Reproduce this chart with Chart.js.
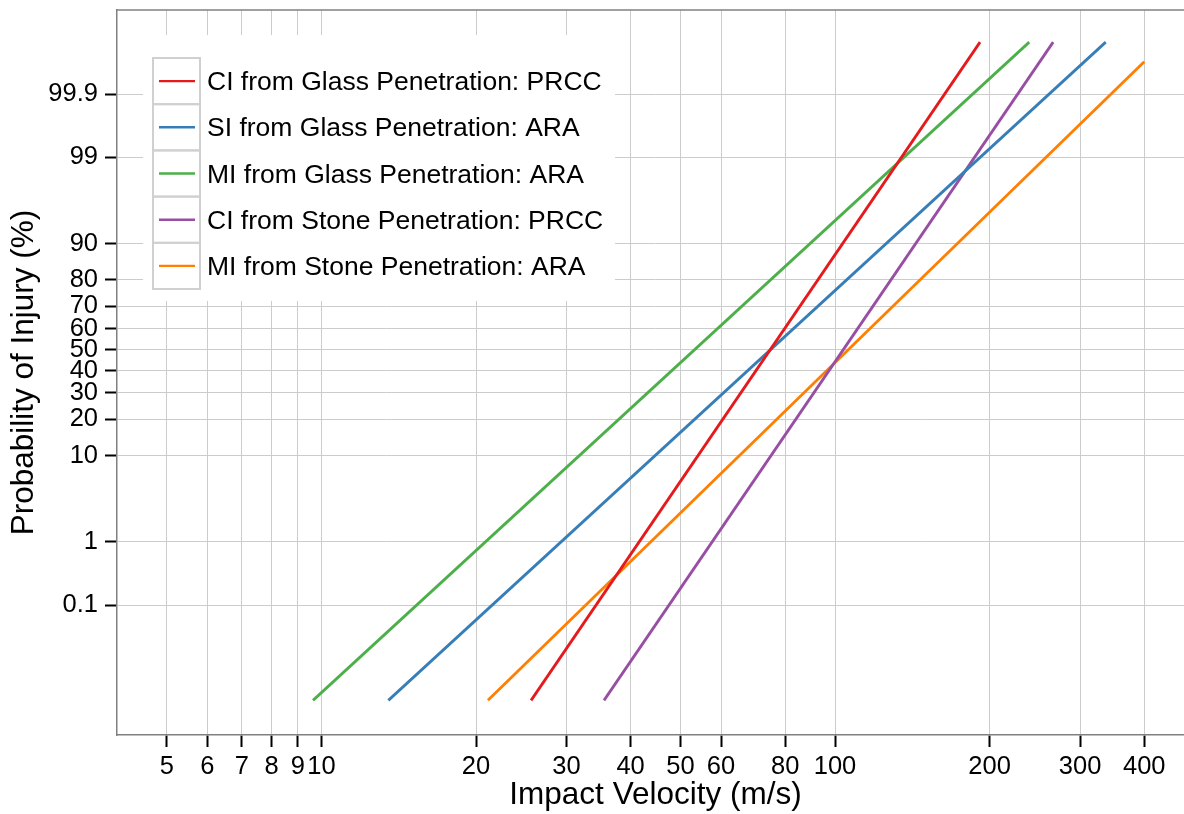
<!DOCTYPE html>
<html>
<head>
<meta charset="utf-8">
<script src="https://cdn.jsdelivr.net/npm/chart.js@4.4.1/dist/chart.umd.min.js"></script>
<style>
  html, body { margin: 0; padding: 0; background: #fff; overflow: hidden; }
  #wrap { width: 1200px; height: 814px; }
</style>
</head>
<body>
<div id="wrap"><canvas id="chart" width="1200" height="814"></canvas></div>
<script>
const seriesLabels = [
  'CI from Glass Penetration: PRCC',
  'SI from Glass Penetration: ARA',
  'MI from Glass Penetration: ARA',
  'CI from Stone Penetration: PRCC',
  'MI from Stone Penetration: ARA'
];
const seriesColors = ['#e41a1c', '#377eb8', '#4daf4a', '#984ea3', '#ff7f00'];
// each curve is a straight line on these axes, read at both ends (m/s, %)
const lowVelocity = [25.6, 13.5, 9.63, 35.5, 21.1];
const highVelocity = [191.6, 336.6, 238.9, 265.9, 400];
const lowProbability = [0.0011, 0.0011, 0.0011, 0.0011, 0.0011];
const highProbability = [99.99, 99.99, 99.99, 99.99, 99.975];
const velocityTicks = [5, 6, 7, 8, 9, 10, 20, 30, 40, 50, 60, 80, 100, 200, 300, 400];
const probabilityTicks = [0.1, 1, 10, 20, 30, 40, 50, 60, 70, 80, 90, 99, 99.9];

const FONT = "'Liberation Sans', Arial, sans-serif";
const GRID = '#cccccc';
const FRAME = '#808080';

// inverse standard normal CDF (Acklam)
function probit(p) {
  const a = [-3.969683028665376e+01, 2.209460984245205e+02, -2.759285104469687e+02, 1.383577518672690e+02, -3.066479806614716e+01, 2.506628277459239e+00];
  const b = [-5.447609879822406e+01, 1.615858368580409e+02, -1.556989798598866e+02, 6.680131188771972e+01, -1.328068155288572e+01];
  const c = [-7.784894002430293e-03, -3.223964580411365e-01, -2.400758277161838e+00, -2.549732539343734e+00, 4.374664141464968e+00, 2.938163982698783e+00];
  const d = [7.784695709041462e-03, 3.224671290700398e-01, 2.445134137142996e+00, 3.754408661907416e+00];
  const plow = 0.02425;
  let q, r;
  if (p < plow) {
    q = Math.sqrt(-2 * Math.log(p));
    return (((((c[0]*q+c[1])*q+c[2])*q+c[3])*q+c[4])*q+c[5]) / ((((d[0]*q+d[1])*q+d[2])*q+d[3])*q+1);
  }
  if (p <= 1 - plow) {
    q = p - 0.5; r = q * q;
    return (((((a[0]*r+a[1])*r+a[2])*r+a[3])*r+a[4])*r+a[5])*q / (((((b[0]*r+b[1])*r+b[2])*r+b[3])*r+b[4])*r+1);
  }
  q = Math.sqrt(-2 * Math.log(1 - p));
  return -(((((c[0]*q+c[1])*q+c[2])*q+c[3])*q+c[4])*q+c[5]) / ((((d[0]*q+d[1])*q+d[2])*q+d[3])*q+1);
}

function normCdf(z) {
  const t = 1 / (1 + 0.2316419 * Math.abs(z));
  const y = t * (0.319381530 + t * (-0.356563782 + t * (1.781477937 + t * (-1.821255978 + t * 1.330274429))));
  const tail = Math.exp(-z * z / 2) / Math.sqrt(2 * Math.PI) * y;
  return z >= 0 ? 1 - tail : tail;
}

// probability (%) axis: linear in the normal quantile
class ProbitScale extends Chart.Scale {
  determineDataLimits() {
    const mm = this.getMinMax(false);
    this.min = this.options.min ?? mm.min;
    this.max = this.options.max ?? mm.max;
  }
  buildTicks() {
    return probabilityTicks.map(v => ({ value: v }));
  }
  getLabelForValue(v) {
    return String(v);
  }
  getPixelForValue(v) {
    const z0 = probit(this.min / 100);
    const z1 = probit(this.max / 100);
    return this.getPixelForDecimal((probit(v / 100) - z0) / (z1 - z0));
  }
  getValueForPixel(px) {
    const z0 = probit(this.min / 100);
    const z1 = probit(this.max / 100);
    return normCdf(z0 + this.getDecimalForPixel(px) * (z1 - z0)) * 100;
  }
}
ProbitScale.id = 'probit';
ProbitScale.defaults = {};
Chart.register(ProbitScale);

const boxedLegend = {
  id: 'boxedLegend',
  beforeDatasetsDraw(chart) {
    const { ctx, chartArea } = chart;
    const x0 = chartArea.left + 26, y0 = chartArea.top + 25;
    const cellX = chartArea.left + 36, cellY = chartArea.top + 48;
    const cellW = 47, rowH = 46.2;
    ctx.save();
    ctx.fillStyle = '#ffffff';
    ctx.fillRect(x0, y0, 472, 266);
    ctx.font = '26.5px ' + FONT;
    ctx.textBaseline = 'middle';
    ctx.textAlign = 'left';
    chart.data.datasets.forEach((ds, i) => {
      const top = cellY + i * rowH;
      ctx.strokeStyle = '#d0d0d0';
      ctx.lineWidth = 2;
      ctx.strokeRect(cellX, top, cellW, rowH);
      ctx.beginPath();
      ctx.strokeStyle = ds.borderColor;
      ctx.lineWidth = 2.4;
      ctx.moveTo(cellX + 6, top + rowH / 2);
      ctx.lineTo(cellX + 42, top + rowH / 2);
      ctx.stroke();
      ctx.fillStyle = '#000';
      ctx.fillText(ds.label, cellX + 54, top + rowH / 2 + 1.7);
    });
    ctx.restore();
  },
  afterDraw(chart) {
    const { ctx, chartArea } = chart;
    ctx.save();
    ctx.strokeStyle = FRAME;
    ctx.lineWidth = 1.5;
    ctx.beginPath();
    ctx.moveTo(chartArea.left, chartArea.top);
    ctx.lineTo(chartArea.right + 10, chartArea.top);
    ctx.stroke();
    ctx.restore();
  }
};

Chart.defaults.font.family = FONT;
Chart.defaults.color = '#000';

const datasets = seriesLabels.map((label, i) => ({
  label,
  data: [
    { x: lowVelocity[i], y: lowProbability[i] },
    { x: highVelocity[i], y: highProbability[i] }
  ],
  borderColor: seriesColors[i],
  backgroundColor: seriesColors[i],
  borderWidth: 2.8,
  pointRadius: 0,
  fill: false
}));

new Chart(document.getElementById('chart'), {
  type: 'line',
  data: { datasets },
  options: {
    responsive: false,
    animation: false,
    layout: { padding: { top: 10, right: 6, left: 0, bottom: 0 } },
    plugins: { legend: { display: false }, tooltip: { enabled: false } },
    scales: {
      x: {
        type: 'logarithmic',
        min: 4,
        max: 500,
        afterBuildTicks: s => { s.ticks = velocityTicks.map(v => ({ value: v })); },
        afterFit: s => { s.height = 79; s.paddingLeft = 0; s.paddingRight = 0; },
        grid: { color: GRID, lineWidth: 1, tickColor: '#000', tickLength: 12, tickWidth: 2 },
        border: { color: FRAME, width: 1.5 },
        ticks: { autoSkip: false, maxRotation: 0, padding: 5, font: { size: 25.5 }, callback: v => String(v) },
        title: { display: true, text: 'Impact Velocity (m/s)', font: { size: 31.5 }, padding: { top: 0, bottom: 0 } }
      },
      y: {
        type: 'probit',
        min: 0.000156,
        max: 99.998,
        afterFit: s => { s.width = 117; s.paddingTop = 0; s.paddingBottom = 0; },
        grid: { color: GRID, lineWidth: 1, tickColor: '#000', tickLength: 12, tickWidth: 2 },
        border: { color: FRAME, width: 1.5 },
        ticks: { autoSkip: false, padding: 7, font: { size: 25.5 }, callback: v => String(v) },
        title: { display: true, text: 'Probability of Injury (%)', font: { size: 31.5 }, padding: { top: 5, bottom: 0 } }
      }
    }
  },
  plugins: [boxedLegend]
});
</script>
</body>
</html>
